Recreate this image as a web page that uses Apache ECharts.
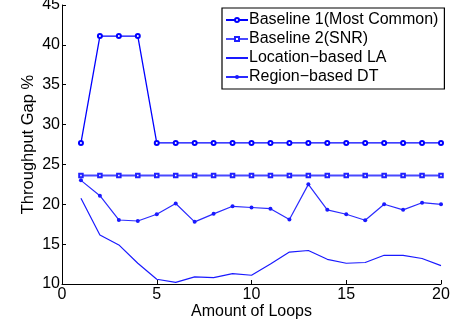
<!DOCTYPE html>
<html><head><meta charset="utf-8">
<script src="https://cdn.jsdelivr.net/npm/echarts@6/dist/echarts.min.js"></script>
<style>html,body{margin:0;padding:0;background:#fff}#c{width:455px;height:323px}</style>
</head><body><div id="c"></div>
<script>
var loops = [1,2,3,4,5,6,7,8,9,10,11,12,13,14,15,16,17,18,19,20];
var baseline1 = [27.7,41.1,41.1,41.1,27.7,27.7,27.7,27.7,27.7,27.7,27.7,27.7,27.7,27.7,27.7,27.7,27.7,27.7,27.7,27.7];
var baseline2 = [23.6,23.6,23.6,23.6,23.6,23.6,23.6,23.6,23.6,23.6,23.6,23.6,23.6,23.6,23.6,23.6,23.6,23.6,23.6,23.6];
var locationLA = [20.75,16.15,14.9,12.6,10.6,10.2,10.9,10.8,11.3,11.1,12.5,14.0,14.2,13.1,12.6,12.7,13.6,13.6,13.2,12.3];
var regionDT = [23.0,21.08,18.03,17.9,18.75,20.1,17.8,18.8,19.75,19.6,19.45,18.1,22.5,19.3,18.75,18.0,20.0,19.3,20.2,20.0];
var seriesNames = ['Baseline 1(Most Common)','Baseline 2(SNR)','Location\u2212based LA','Region\u2212based DT'];
var yTicks = {min:10, max:45, interval:5};
var xTicks = {min:0, max:20, interval:5};

function pairs(arr){ return arr.map(function(v,i){ return [loops[i], v]; }); }

var font = 'Liberation Sans, Arial, Helvetica, sans-serif';
var chart = echarts.init(document.getElementById('c'), null, {renderer:'canvas'});
chart.setOption({
  animation:false,
  grid:{left:62, right:14, top:5, bottom:39, containLabel:false, outerBoundsMode:'none'},
  legend:{
    orient:'vertical', left:222, top:8,
    data:[
      {name:seriesNames[0]},
      {name:seriesNames[1]},
      {name:seriesNames[2], itemStyle:{opacity:0}},
      {name:seriesNames[3]}
    ],
    borderColor:'#000', borderWidth:1.2, backgroundColor:'#fff',
    padding:[4,6,4,3], itemGap:3, itemWidth:22, itemHeight:5,
    textStyle:{fontFamily:font, fontSize:16, color:'#000', lineHeight:16, padding:[0,0,0,-4]}
  },
  xAxis:{
    type:'value', min:xTicks.min, max:xTicks.max, interval:xTicks.interval,
    name:'Amount of Loops', nameLocation:'middle', nameGap:20, nameMoveOverlap:false,
    nameTextStyle:{fontFamily:font, fontSize:16, color:'#000', verticalAlign:'top'},
    axisLine:{lineStyle:{color:'#000', width:1}},
    axisTick:{inside:true, length:4, lineStyle:{color:'#000'}},
    axisLabel:{fontFamily:font, fontSize:16, color:'#000', margin:3},
    splitLine:{show:false}
  },
  yAxis:{
    type:'value', min:yTicks.min, max:yTicks.max, interval:yTicks.interval,
    name:'Throughput Gap %', nameLocation:'middle', nameGap:25, nameMoveOverlap:false,
    nameTextStyle:{fontFamily:font, fontSize:16.5, color:'#000', verticalAlign:'bottom'},
    axisLine:{show:true, lineStyle:{color:'#000', width:1}},
    axisTick:{show:true, inside:true, length:4, lineStyle:{color:'#000'}},
    axisLabel:{fontFamily:font, fontSize:16, color:'#000', margin:2},
    splitLine:{show:false}
  },
  series:[
    {name:seriesNames[0], type:'line', data:pairs(baseline1), symbol:'emptyCircle', symbolSize:4,
      lineStyle:{color:'#0000ff', width:1.3}, itemStyle:{color:'#0000ff', borderColor:'#0000ff', borderWidth:1.1}},
    {name:seriesNames[1], type:'line', data:pairs(baseline2), symbol:'emptyRect', symbolSize:3.5,
      lineStyle:{color:'#4848ff', width:2}, itemStyle:{color:'#2020ff', borderColor:'#2020ff', borderWidth:1.1}},
    {name:seriesNames[2], type:'line', data:pairs(locationLA), symbol:'none', showSymbol:false,
      lineStyle:{color:'#1a1aff', width:1.2}, itemStyle:{color:'#1a1aff'}},
    {name:seriesNames[3], type:'line', data:pairs(regionDT), symbol:'circle', symbolSize:4,
      lineStyle:{color:'#2a2aff', width:1.2}, itemStyle:{color:'#1a1aff'}}
  ]
});
</script></body></html>
